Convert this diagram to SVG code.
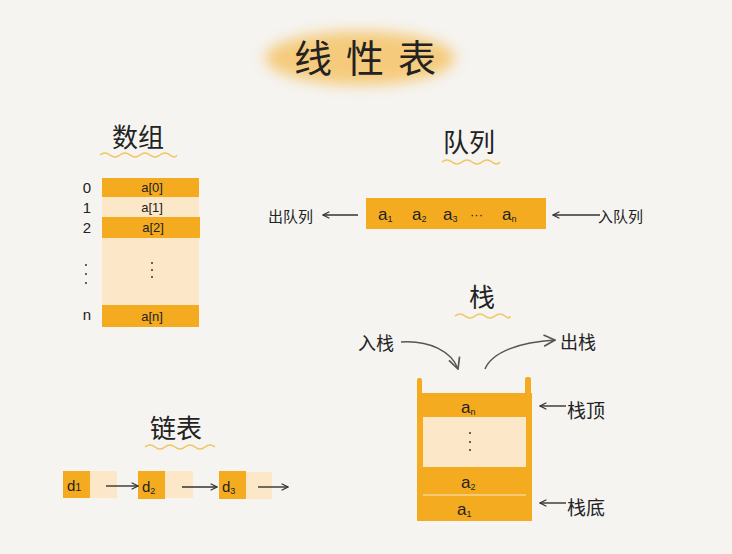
<svg xmlns="http://www.w3.org/2000/svg" width="732" height="554" viewBox="0 0 732 554">
<defs>
<filter id="blur" x="-20%" y="-40%" width="140%" height="180%"><feGaussianBlur stdDeviation="7"/></filter>
<marker id="ah" viewBox="0 0 10 10" refX="9" refY="5" markerWidth="8" markerHeight="8" orient="auto-start-reverse" markerUnits="userSpaceOnUse"><path d="M1,1 L9,5 L1,9" fill="none" stroke="#333" stroke-width="1.4"/></marker>
<marker id="ahg" viewBox="0 0 10 10" refX="9" refY="5" markerWidth="14" markerHeight="14" orient="auto" markerUnits="userSpaceOnUse"><path d="M1,1 L9,5 L1,9" fill="none" stroke="#555" stroke-width="1.2"/></marker>
</defs>
<style>
.bg{fill:#f5f4f1}
.dk{fill:#f5ab1f}
.lt{fill:#fce8c8}
.t{font-family:"Liberation Sans","Noto Sans CJK SC",sans-serif;fill:#222}
.cn{font-family:"Noto Sans CJK SC",sans-serif;fill:#222}
.ttl{font-family:"Noto Sans CJK SC",sans-serif;fill:#222;font-size:26px;text-anchor:middle}
.wave{fill:none;stroke:#f0c660;stroke-width:1.6}
.ln{stroke:#333;stroke-width:1.4;fill:none}
.cv{stroke:#555;stroke-width:1.4;fill:none}
.c{text-anchor:middle}
</style>
<rect class="bg" width="732" height="554"/>

<g id="title">
<ellipse cx="360" cy="58" rx="95" ry="27" fill="#f5bd55" opacity="0.75" filter="url(#blur)"/>
<text class="cn c" x="372" y="72" font-size="38" letter-spacing="14">线性表</text>
</g>

<g id="array">
<text class="ttl" x="138" y="147">数组</text>
<path class="wave" d="M100,155 q5,-4 10,0 t10,0 t10,0 t10,0 t10,0 t10,0 t10,0 t7,0"/>
<rect class="dk" x="102" y="178" width="97" height="19"/>
<rect class="lt" x="102" y="197" width="97" height="20"/>
<rect class="dk" x="102" y="217" width="98" height="21"/>
<rect class="lt" x="102" y="238" width="97" height="67"/>
<rect class="dk" x="102" y="305" width="97" height="22"/>
<g class="t" font-size="13">
<text class="c" x="152" y="192">a[0]</text>
<text class="c" x="152" y="212">a[1]</text>
<text class="c" x="153" y="232">a[2]</text>
<text class="c" x="152" y="321">a[n]</text>
<text class="c" x="87" y="193" font-size="15">0</text>
<text class="c" x="87" y="213" font-size="15">1</text>
<text class="c" x="87" y="233" font-size="15">2</text>
<text class="c" x="87" y="320" font-size="15">n</text>
</g>
<g fill="#333"><circle cx="86" cy="265" r="1"/><circle cx="86" cy="274" r="1"/><circle cx="86" cy="283" r="1"/>
<circle cx="152" cy="263" r="1"/><circle cx="152" cy="270" r="1"/><circle cx="152" cy="277" r="1"/></g>
</g>

<g id="queue">
<text class="ttl" x="469" y="152" font-size="24">队列</text>
<path class="wave" d="M442,162 q5,-4 10,0 t10,0 t10,0 t10,0 t10,0 t8,0"/>
<rect class="dk" x="366" y="198" width="180" height="31"/>
<g class="t" font-size="17">
<text x="378" y="220">a<tspan font-size="9" dy="2">1</tspan></text>
<text x="412" y="220">a<tspan font-size="9" dy="2">2</tspan></text>
<text x="443" y="220">a<tspan font-size="9" dy="2">3</tspan></text>
<text x="470" y="219" font-size="13">···</text>
<text x="502" y="220">a<tspan font-size="9" dy="2">n</tspan></text>
</g>
<text class="cn" x="268" y="222" font-size="15">出队列</text>
<text class="cn" x="598" y="222" font-size="15">入队列</text>
</g>

<g id="stack">
<text class="ttl" x="482" y="307">栈</text>
<path class="wave" d="M455,316 q5,-4 10,0 t10,0 t10,0 t10,0 t10,0 t5,0"/>
<rect class="dk" x="417" y="393" width="115" height="128"/>
<rect class="dk" x="417" y="378" width="5" height="18" rx="2"/>
<rect class="dk" x="525" y="377" width="6" height="19" rx="2"/>
<rect class="lt" x="423" y="417" width="103" height="50"/>
<line x1="423" y1="495" x2="526" y2="495" stroke="#fce8c8" stroke-width="1.2"/>
<g class="t" font-size="17">
<text x="461" y="413">a<tspan font-size="9" dy="2">n</tspan></text>
<text x="461" y="488">a<tspan font-size="9" dy="2">2</tspan></text>
<text x="457" y="515">a<tspan font-size="9" dy="2">1</tspan></text>
</g>
<g fill="#333"><circle cx="470" cy="433" r="1"/><circle cx="470" cy="442" r="1"/><circle cx="470" cy="450" r="1"/></g>
<text class="cn" x="358" y="350" font-size="18">入栈</text>
<text class="cn" x="560" y="349" font-size="18">出栈</text>
<text class="cn" x="567" y="418" font-size="19">栈顶</text>
<text class="cn" x="567" y="515" font-size="19">栈底</text>
</g>

<g id="list">
<text class="ttl" x="176" y="438" font-size="28">链表</text>
<path class="wave" d="M145,447 q5,-4 10,0 t10,0 t10,0 t10,0 t10,0 t10,0 t10,0"/>
<rect class="lt" x="90" y="471" width="27" height="27"/>
<rect class="dk" x="63" y="471" width="27" height="27"/>
<rect class="lt" x="165" y="471" width="28" height="27"/>
<rect class="dk" x="138" y="471" width="27" height="28"/>
<rect class="lt" x="246" y="472" width="26" height="27"/>
<rect class="dk" x="219" y="471" width="27" height="28"/>
<g class="t" font-size="15">
<text x="67" y="491">d<tspan font-size="11">1</tspan></text>
<text x="142" y="492">d<tspan font-size="9" dy="2">2</tspan></text>
<text x="222" y="492">d<tspan font-size="9" dy="2">3</tspan></text>
</g>
</g>

<g id="connectors">
<line class="ln" x1="358" y1="215" x2="323" y2="215" marker-end="url(#ah)"/>
<line class="ln" x1="600" y1="215" x2="553" y2="215" marker-end="url(#ah)"/>
<line class="ln" x1="566" y1="406" x2="540" y2="406" marker-end="url(#ah)"/>
<line class="ln" x1="566" y1="503" x2="540" y2="503" marker-end="url(#ah)"/>
<line class="ln" x1="106" y1="486" x2="138" y2="486" marker-end="url(#ah)"/>
<line class="ln" x1="182" y1="487" x2="217" y2="487" marker-end="url(#ah)"/>
<line class="ln" x1="258" y1="487" x2="288" y2="487" marker-end="url(#ah)"/>
<path class="cv" d="M401,342 C430,340 452,352 458,369" marker-end="url(#ahg)"/>
<path class="cv" d="M485,369 C492,352 520,342 555,340" marker-end="url(#ahg)"/>
</g>
</svg>
